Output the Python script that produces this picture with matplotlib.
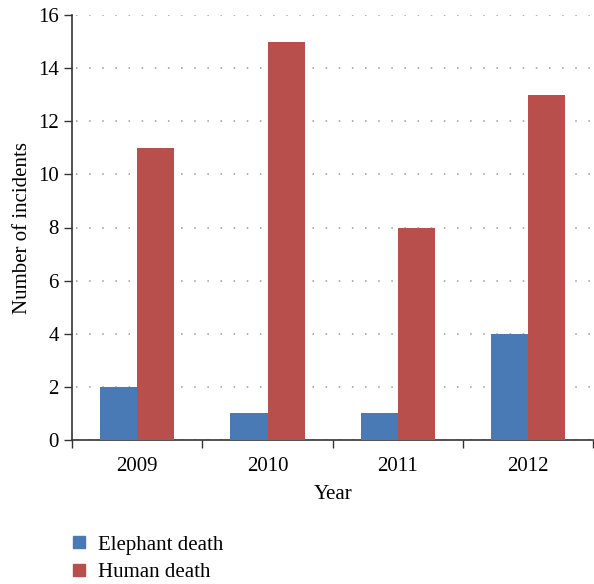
import matplotlib
matplotlib.use("Agg")
import matplotlib.pyplot as plt
import numpy as np
from matplotlib.patches import Patch

years = ["2009", "2010", "2011", "2012"]
elephant = [2, 1, 1, 4]
human = [11, 15, 8, 13]
yticks = [0, 2, 4, 6, 8, 10, 12, 14, 16]

plt.rcParams['font.family'] = ['Liberation Serif', 'DejaVu Serif']
blue = "#4a7ab5"
red = "#b84f4d"
fs = 15

fig = plt.figure(figsize=(5.94, 5.84), dpi=100)
ax = fig.add_axes([72/594, (584-440)/584, 1 - 72/594 - 0.001, (440-15)/584])

x = np.arange(len(years))
w = 0.285
ax.bar(x - w/2, elephant, w, color=blue, zorder=3)
ax.bar(x + w/2, human, w, color=red, zorder=3)

ax.set_xlim(-0.5, len(years) - 0.5)
ax.set_ylim(0, 16)
ax.set_yticks(yticks)
ax.set_xticks(x)
ax.set_xticklabels(years)
ax.set_xticks(np.arange(-0.5, len(years) + 0.5, 1), minor=True)
ax.tick_params(axis='x', which='major', length=0, pad=12, labelsize=fs)
ax.tick_params(axis='x', which='minor', length=6, width=1, direction='out', color='#333333')
ax.tick_params(axis='y', length=6, width=1, direction='out', labelsize=fs, color='#333333')
for s in ['top', 'right']:
    ax.spines[s].set_visible(False)
for s in ['left', 'bottom']:
    ax.spines[s].set_color('#333333')
    ax.spines[s].set_linewidth(1.2)
ax.yaxis.grid(True, linestyle=(6, (1, 7.6)), color='#999999', linewidth=1.1, zorder=0)
ax.set_axisbelow(True)

ax.set_xlabel("Year", fontsize=fs)
ax.xaxis.set_label_coords(0.5, -0.105)
ax.set_ylabel("Number of incidents", fontsize=fs, labelpad=4)

handles = [Patch(color=blue, label="Elephant death"), Patch(color=red, label="Human death")]
fig.legend(handles=handles, loc='upper left', bbox_to_anchor=(0.092, 0.115), frameon=False,
           fontsize=fs, handlelength=0.55, handleheight=0.55, handletextpad=0.65, labelspacing=0.42)

fig.savefig("out.png", dpi=100)
